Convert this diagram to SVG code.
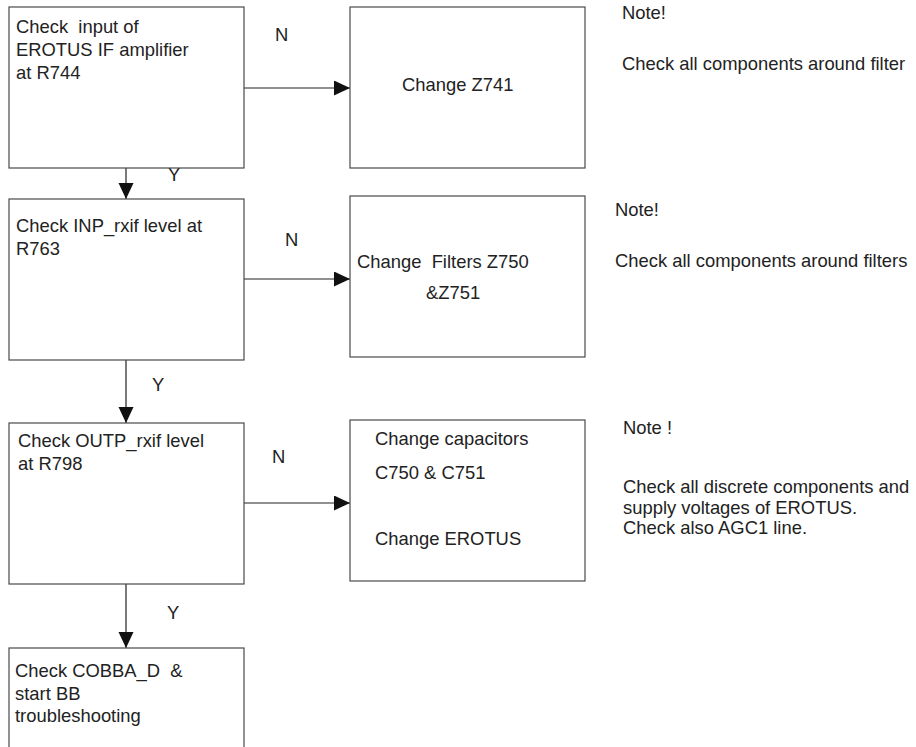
<svg xmlns="http://www.w3.org/2000/svg" width="916" height="747" viewBox="0 0 916 747">
  <style>
    .box { fill: #ffffff; stroke: #4a4a4a; stroke-width: 1.2; }
    .t { font-family: "Liberation Sans", Arial, sans-serif; font-size: 18.4px; fill: #222222; }
    .edge { stroke: #222222; stroke-width: 1.2; fill: none; }
  </style>
  <defs>
    <marker id="arrow" markerUnits="userSpaceOnUse" markerWidth="17" markerHeight="16" refX="16" refY="7.5" orient="auto">
      <path d="M0,0 L16,7.5 L0,15 Z" fill="#111111"/>
    </marker>
  </defs>
  <rect width="916" height="747" fill="#ffffff"/>

  <!-- connectors with their Y / N labels -->
  <g id="connectors">
    <line class="edge" x1="244" y1="88" x2="350" y2="88" marker-end="url(#arrow)"/>
    <line class="edge" x1="126" y1="168" x2="126" y2="199" marker-end="url(#arrow)"/>
    <line class="edge" x1="244" y1="279" x2="350" y2="279" marker-end="url(#arrow)"/>
    <line class="edge" x1="126" y1="360" x2="126" y2="423" marker-end="url(#arrow)"/>
    <line class="edge" x1="244" y1="503" x2="350" y2="503" marker-end="url(#arrow)"/>
    <line class="edge" x1="126" y1="584" x2="126" y2="648" marker-end="url(#arrow)"/>
    <text class="t" x="275" y="41">N</text>
    <text class="t" x="168" y="181">Y</text>
    <text class="t" x="285" y="246">N</text>
    <text class="t" x="152" y="391">Y</text>
    <text class="t" x="272" y="463">N</text>
    <text class="t" x="167" y="619">Y</text>
  </g>

  <g id="check-input">
    <rect class="box" x="9" y="7" width="235" height="161"/>
    <text class="t" x="16" y="33" xml:space="preserve">Check  input of</text>
    <text class="t" x="16" y="56">EROTUS IF amplifier</text>
    <text class="t" x="16" y="79">at R744</text>
  </g>

  <g id="change-z741">
    <rect class="box" x="350" y="7" width="235" height="161"/>
    <text class="t" x="402" y="91">Change Z741</text>
  </g>

  <g id="note-1">
    <text class="t" x="622" y="19">Note!</text>
    <text class="t" x="622" y="70">Check all components around filter</text>
  </g>

  <g id="check-inp">
    <rect class="box" x="9" y="199" width="235" height="161"/>
    <text class="t" x="16" y="232">Check INP_rxif level at</text>
    <text class="t" x="16" y="255">R763</text>
  </g>

  <g id="change-filters">
    <rect class="box" x="350" y="196" width="235" height="161"/>
    <text class="t" x="357" y="268" xml:space="preserve">Change  Filters Z750</text>
    <text class="t" x="426" y="299">&amp;Z751</text>
  </g>

  <g id="note-2">
    <text class="t" x="615" y="216">Note!</text>
    <text class="t" x="615" y="267">Check all components around filters</text>
  </g>

  <g id="check-outp">
    <rect class="box" x="9" y="423" width="235" height="161"/>
    <text class="t" x="18" y="447">Check OUTP_rxif level</text>
    <text class="t" x="18" y="470">at R798</text>
  </g>

  <g id="change-caps">
    <rect class="box" x="350" y="420" width="235" height="161"/>
    <text class="t" x="375" y="445">Change capacitors</text>
    <text class="t" x="375" y="479">C750 &amp; C751</text>
    <text class="t" x="375" y="545">Change EROTUS</text>
  </g>

  <g id="note-3">
    <text class="t" x="623" y="434">Note !</text>
    <text class="t" x="623" y="493">Check all discrete components and</text>
    <text class="t" x="623" y="514">supply voltages of EROTUS.</text>
    <text class="t" x="623" y="534">Check also AGC1 line.</text>
  </g>

  <g id="check-cobba">
    <rect class="box" x="9" y="648" width="235" height="110"/>
    <text class="t" x="15" y="677" xml:space="preserve">Check COBBA_D  &amp;</text>
    <text class="t" x="15" y="700">start BB</text>
    <text class="t" x="15" y="722">troubleshooting</text>
  </g>
</svg>
